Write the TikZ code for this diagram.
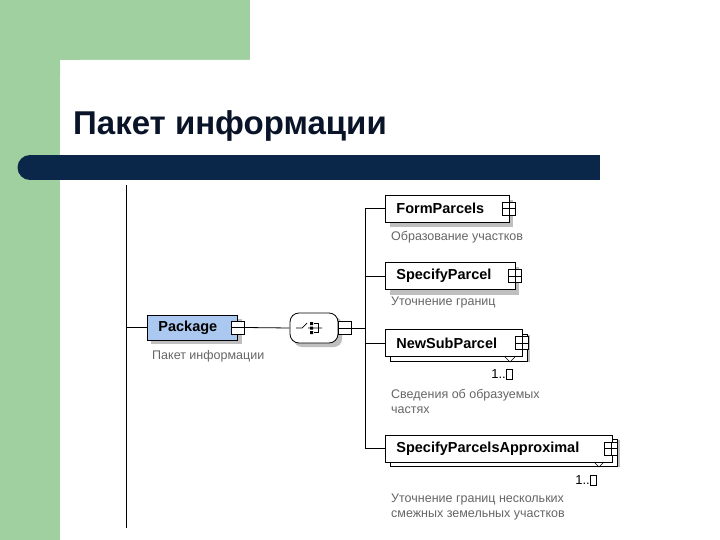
\documentclass[tikz,border=0pt]{standalone}
\usepackage{fontspec}
\setmainfont{Liberation Sans}
\definecolor{bggreen}{RGB}{160,207,160}
\definecolor{navy}{RGB}{10,38,72}
\definecolor{titlec}{RGB}{10,20,40}
\definecolor{pkgblue}{RGB}{170,200,240}
\begin{document}
\begin{tikzpicture}[x=1pt,y=-1pt,
  elem/.style={draw=black,line width=0.8pt,fill=white,minimum height=27pt,inner xsep=11pt,anchor=west,align=left,font=\bfseries\fontsize{14.5}{14.5}\selectfont},
  shadow/.style={fill=black!25,draw=none},
  pm/.style={draw=black,fill=white,minimum size=13pt,inner sep=0pt,line width=0.7pt},
  doc/.style={text=black!60,font=\fontsize{12.5}{15}\selectfont,anchor=north west,align=left,inner sep=0pt},
  card/.style={font=\fontsize{13}{13}\selectfont,inner sep=0pt}]
\useasboundingbox (0,0) rectangle (720,540);
\fill[bggreen] (0,0) rectangle (250,60) (0,0) rectangle (60,540);
\fill[white] (720,60) -- (80,60) arc (90:180:20pt) -- (60,540) -- (720,540) -- cycle;
\fill[white] (250,0) rectangle (720,60);
\node[anchor=base west,font=\bfseries\fontsize{33}{33}\selectfont,text=titlec,inner sep=0pt] (title) at (73,135) {Пакет информации};
\fill[navy] (30,155) rectangle (600,180);
\fill[navy] (30,167.5) circle (12.5pt);
\draw[line width=0.8pt] (126,185) -- (126,528);
% Package
\fill[shadow] (151,319) rectangle (242,344);
\node[elem,fill=pkgblue,minimum height=25pt,text width=68pt,anchor=west] (pkg) at (147,327.5) {Package};
\node[pm] (pkgm) at (238,327.5) {};
\draw (pkgm.west) -- (pkgm.east);
\coordinate (lft) at (126,327.5);
\draw[line width=0.8pt] (lft) -- (pkg.west);
% sequence
\fill[shadow,rounded corners=8pt] (294,317) rectangle (342,347);
\node[draw,line width=0.8pt,fill=white,rounded corners=9pt,minimum width=48pt,minimum height=30pt] (seq) at (314,328) {};
\draw[line width=0.7pt] (296,328) -- (302,328) -- (307,323) (308,328) -- (322,328);
\fill (310,322) rectangle (313,325) (310,326.5) rectangle (313,329.5) (310,331) rectangle (313,334);
\draw[line width=0.6pt] (314,323.5) -- (318,323.5) -- (318,332.5) -- (314,332.5);
\node[pm] (seqm) at (345,328) {};
\draw (seqm.west) -- (seqm.east);
\draw[line width=0.8pt] (pkgm.east) -- (seq.west);
\coordinate (bus) at (365,328);
\draw[line width=0.8pt] (seqm.east) -- (bus);
\coordinate (bt) at (365,208);
\coordinate (bb) at (365,449);
\draw[line width=0.8pt] (bt) -- (bb);
% children
\fill[shadow] (390,200) rectangle (513,227);
\node[elem,text width=102pt] (c1) at (385,208.5) {FormParcels};
\node[pm] (c1p) at (509,208.5) {}; \draw (c1p.west)--(c1p.east) (c1p.north)--(c1p.south);
\fill[shadow] (390,267) rectangle (519,295);
\node[elem,text width=108pt] (c2) at (385,276) {SpecifyParcel};
\node[pm] (c2p) at (515,276) {}; \draw (c2p.west)--(c2p.east) (c2p.north)--(c2p.south);
\fill[shadow] (390,335) rectangle (530,362);
\draw[fill=white] (390,334) rectangle (527,361);
\node[elem,text width=115pt] (c3) at (385,343) {NewSubParcel};
\node[pm] (c3p) at (522,343) {}; \draw (c3p.west)--(c3p.east) (c3p.north)--(c3p.south);
\draw (505,357) -- (510,362) -- (515,357);
\fill[shadow] (390,440) rectangle (620,467);
\draw[fill=white] (390,439) rectangle (617,466);
\node[elem,text width=205pt] (c4) at (385,448.5) {SpecifyParcelsApproximal};
\node[pm] (c4p) at (611,448.5) {}; \draw (c4p.west)--(c4p.east) (c4p.north)--(c4p.south);
\draw (594,462) -- (599,467) -- (604,462);
\draw[line width=0.8pt] (365,208.5) -- (c1.west);
\draw[line width=0.8pt] (365,276) -- (c2.west);
\draw[line width=0.8pt] (365,343) -- (c3.west);
\draw[line width=0.8pt] (365,448.5) -- (c4.west);
\node[card,anchor=east] (m3) at (506,374) {1..};
\draw[line width=0.6pt] (m3.east) ++(0.5,-5) rectangle ++(6,10);
\node[card,anchor=east] (m4) at (590,480) {1..};
\draw[line width=0.6pt] (m4.east) ++(0.5,-5) rectangle ++(6,10);
% docs
\node[doc] (d0) at (152,350) {Пакет информации};
\node[doc] (d1) at (391,231) {Образование участков};
\node[doc] (d2) at (391,297) {Уточнение границ};
\node[doc] (d3) at (391,389) {Сведения об образуемых\\частях};
\node[doc] (d4) at (391,494) {Уточнение границ нескольких\\смежных земельных участков};
\end{tikzpicture}
\end{document}
